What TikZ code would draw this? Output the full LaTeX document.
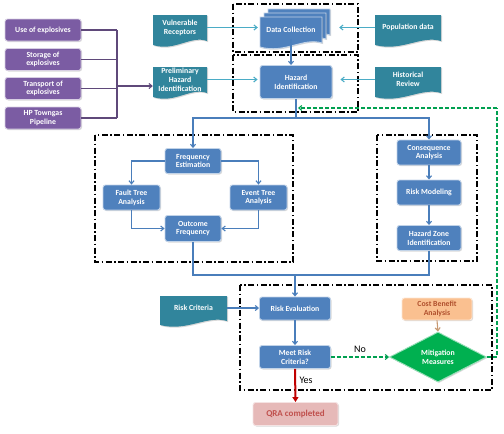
\documentclass[tikz,border=0pt]{standalone}
\usepackage{fontspec}
\setmainfont{Carlito}
\usetikzlibrary{arrows.meta,shapes.geometric,shadows,calc}
\definecolor{purp}{HTML}{7B5CA3}
\definecolor{purpline}{HTML}{5F497A}
\definecolor{tealdoc}{HTML}{31859C}
\definecolor{tealline}{HTML}{4BACC6}
\definecolor{bl}{HTML}{4F81BD}
\definecolor{blline}{HTML}{4A7EBB}
\definecolor{orfill}{HTML}{FAC090}
\definecolor{ortext}{HTML}{B0502D}
\definecolor{grn}{HTML}{00B050}
\definecolor{grnline}{HTML}{00A050}
\definecolor{qrafill}{HTML}{E6B9B8}
\definecolor{qratext}{HTML}{C0504D}
\definecolor{redline}{HTML}{C00000}
\tikzset{
  shad/.style={drop shadow={shadow xshift=1pt,shadow yshift=-1pt,opacity=0.3}},
  txt/.style={font=\bfseries\fontsize{7.8}{8.8}\selectfont,align=center},
  box/.style={rectangle,rounded corners=2.5pt,fill=bl,draw=bl!35!white,line width=0.9pt,text=white,txt,shad,inner sep=1pt},
  pbox/.style={rectangle,rounded corners=2.5pt,fill=purp,draw=purp!30!white,line width=0.9pt,text=white,txt,shad,minimum width=76pt,minimum height=22pt,inner sep=1pt},
  doctext/.style={txt,text=white,inner sep=0pt},
  frame/.style={draw=black,line width=1.2pt,dash pattern=on 6pt off 2.5pt on 1.5pt off 2.5pt},
  arr/.style={-{Straight Barb[length=3pt,width=5pt]},line width=1.1pt},
  bluearr/.style={arr,draw=blline},
  bluel/.style={line width=1.1pt,draw=blline},
  tealarr/.style={arr,draw=tealline},
  purparr/.style={arr,draw=purpline},
  purpl/.style={line width=1.1pt,draw=purpline},
  grnarr/.style={arr,draw=grnline,dash pattern=on 4pt off 2pt},
  grnl/.style={line width=1.1pt,draw=grnline,dash pattern=on 4pt off 2pt},
}
% name, path style, x1, y1, x2, y2, text
\newcommand\docshape[7]{%
  \path[#2] (#3,#4) -- (#5,#4) -- (#5,{#6-5}) .. controls ({#5-0.3*(#5-#3)},{#6-11}) and ({#3+0.4*(#5-#3)},{#6+6}) .. (#3,{#6-1}) -- cycle;
  \node[doctext,minimum width={(#5-#3)*1pt},minimum height={(#6-#4-7)*1pt}] (#1) at ({(#3+#5)/2},{(#4+#6)/2-3}) {#7};
}
\begin{document}
\begin{tikzpicture}[x=1pt,y=-1pt]
\useasboundingbox (0,0) rectangle (504,434);
% frames
\draw[frame] (233,4) rectangle (358,52);
\draw[frame] (233,55) rectangle (358,112);
\draw[frame] (95,135) rectangle (293,262);
\draw[frame] (377,135) rectangle (477,261);
\draw[frame] (240,285) rectangle (492,390);
% purple boxes
\node[pbox] (use) at (43,30) {Use of explosives};
\node[pbox] (storage) at (43,59.5) {Storage of\\explosives};
\node[pbox] (transport) at (43,88.5) {Transport of\\explosives};
\node[pbox] (hp) at (43,118) {HP Towngas\\Pipeline};
% documents
\docshape{vr}{fill=tealdoc,shad}{153}{15}{207}{46}{Vulnerable\\Receptors}
\docshape{prelim}{fill=tealdoc,shad}{153}{67}{207}{98}{Preliminary\\Hazard\\Identification}
\docshape{pop}{fill=tealdoc,shad}{375}{15}{441}{46}{Population data}
\docshape{hist}{fill=tealdoc,shad}{375}{67}{441}{98}{Historical\\Review}
\docshape{rc}{fill=tealdoc,shad}{160}{296}{227}{326}{Risk Criteria}
% data collection stack
\docshape{dcback}{fill=bl,draw=bl!35!white,line width=0.9pt,shad}{268}{9}{330}{40}{}
\docshape{dcmid}{fill=bl,draw=bl!35!white,line width=0.9pt,shad}{264}{13}{326}{44}{}
\docshape{dc}{fill=bl,draw=bl!35!white,line width=0.9pt,shad}{260}{17}{322}{48}{Data Collection}
% blue boxes
\node[box,minimum width=72pt,minimum height=33pt] (haz) at (296,82) {Hazard\\Identification};
\node[box,minimum width=56pt,minimum height=25pt] (freq) at (193,161) {Frequency\\Estimation};
\node[box,minimum width=57pt,minimum height=25pt] (fault) at (131.5,197.5) {Fault Tree\\Analysis};
\node[box,minimum width=57pt,minimum height=25pt] (event) at (258.5,197.5) {Event Tree\\Analysis};
\node[box,minimum width=56pt,minimum height=26pt] (outc) at (193,228.5) {Outcome\\Frequency};
\node[box,minimum width=64pt,minimum height=25pt] (cons) at (429,152.5) {Consequence\\Analysis};
\node[box,minimum width=64pt,minimum height=25pt] (riskm) at (429,192.5) {Risk Modeling};
\node[box,minimum width=64pt,minimum height=25pt] (hzone) at (429,238) {Hazard Zone\\Identification};
\node[box,minimum width=71pt,minimum height=23pt] (reval) at (295,308.5) {Risk Evaluation};
\node[box,minimum width=71pt,minimum height=23pt] (meet) at (295,357) {Meet Risk\\Criteria?};
\node[rectangle,rounded corners=2.5pt,fill=orfill,draw=orfill!40!white,line width=0.9pt,text=ortext,txt,shad,minimum width=70pt,minimum height=22pt,inner sep=1pt] (cost) at (437,309) {Cost Benefit\\Analysis};
\node[diamond,fill=grn,draw=grn!40!white,line width=0.9pt,text=white,txt,shad,minimum width=97pt,minimum height=50pt,inner sep=0pt] (mitig) at (438,357) {Mitigation\\Measures};
\node[rectangle,rounded corners=2.5pt,fill=qrafill,draw=qrafill!40!white,line width=0.9pt,text=qratext,font=\bfseries\fontsize{9}{10}\selectfont,shad,minimum width=85pt,minimum height=23pt] (qra) at (295.5,414) {QRA completed};
% purple connectors
\coordinate (bus) at (117,86);
\coordinate (bustop) at (117,30);
\coordinate (busbot) at (117,118);
\draw[purpl] (use.east) -- (use.east -| bus);
\draw[purpl] (storage.east) -- (storage.east -| bus);
\draw[purpl] (transport.east) -- (transport.east -| bus);
\draw[purpl] (hp.east) -- (hp.east -| bus);
\draw[purpl] (bustop) -- (busbot);
\draw[purparr] (bus) -- (bus -| prelim.west);
% teal arrows
\draw[tealarr] (vr.east) -- ([xshift=-2pt]vr.east -| dc.west);
\draw[tealarr] (pop.west) -- ([xshift=9pt]pop.west -| dcback.east);
\draw[tealarr] (prelim.east) -- ([xshift=-2pt]prelim.east -| haz.west);
\draw[tealarr] (hist.west) -- ([xshift=8pt]hist.west -| haz.east);
% blue connectors
\draw[bluearr] ([yshift=3pt]dc.south) -- ([xshift=-5pt]haz.north);
\coordinate (split) at (295,118);
\draw[bluel] (haz.south) -- (haz.south |- split);
\draw[bluearr] (split) -| (freq.north);
\draw[bluearr] (split) -| (cons.north);
\draw[bluearr] (freq.west) -| (fault.north);
\draw[bluearr] (freq.east) -| (event.north);
\draw[bluearr] (fault.south) |- (outc.west);
\draw[bluearr] (event.south) |- (outc.east);
\draw[bluearr] (cons) -- (riskm);
\draw[bluearr] (riskm) -- (hzone);
\coordinate (merge) at (295,275);
\draw[bluel] (outc.south) |- (merge);
\draw[bluel] (hzone.south) |- (merge);
\draw[bluearr] (merge) -- (reval.north);
\draw[bluearr] (rc.east) -- (rc.east -| reval.west);
\draw[bluearr] (reval) -- (meet);
% orange
\draw[arr,draw=orfill!80!black] (cost.south) -- (mitig.north);
% no / yes
\draw[grnarr] (meet.east) -- node[above=1pt,font=\fontsize{10}{11}\selectfont,text=black] {No} (mitig.west);
\draw[-{Triangle[length=5pt,width=6pt]},line width=2pt,draw=redline] (meet.south) -- node[right=0pt,pos=0.35,font=\fontsize{10}{11}\selectfont,text=black] {Yes} (qra.north);
% green feedback
\coordinate (gright) at (497,108);
\coordinate (gend) at (298,108);
\draw[grnl] (mitig.east) -- (mitig.east -| gright) -- (gright);
\draw[grnarr] (gright) -- (gend);
\end{tikzpicture}
\end{document}
